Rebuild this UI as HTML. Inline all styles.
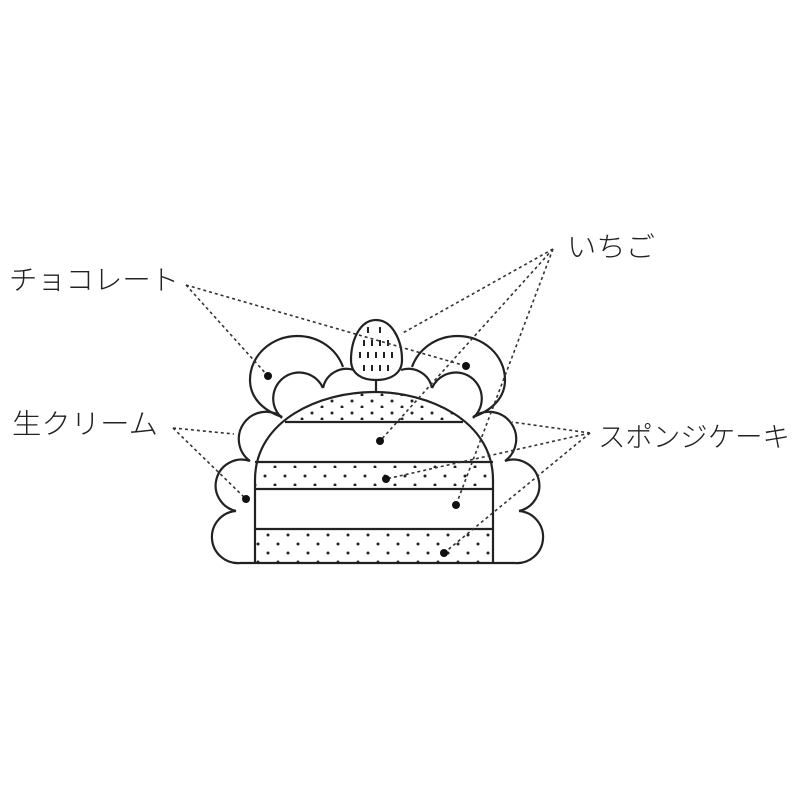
<!DOCTYPE html>
<html><head><meta charset="utf-8"><style>html,body{margin:0;padding:0;background:#fff}svg{display:block}</style></head>
<body>
<svg width="800" height="800" viewBox="0 0 800 800" xmlns="http://www.w3.org/2000/svg">
<defs>
<clipPath id="dome"><path d="M255,563 L255,480 C255,420 320,392 374,392 C428,392 493,420 493,480 L493,563 Z"/></clipPath>
<pattern id="p1" patternUnits="userSpaceOnUse" x="0" y="0" width="20" height="18"><circle cx="5" cy="8" r="1.5" fill="#222"/><circle cx="15" cy="17" r="1.5" fill="#222"/></pattern>
<pattern id="p2" patternUnits="userSpaceOnUse" x="0" y="0" width="20" height="18"><circle cx="8" cy="13" r="1.5" fill="#222"/><circle cx="18" cy="4" r="1.5" fill="#222"/></pattern>
<pattern id="p3" patternUnits="userSpaceOnUse" x="0" y="0" width="20" height="12"><circle cx="12" cy="5" r="1.5" fill="#222"/><circle cx="2" cy="11" r="1.5" fill="#222"/></pattern>
</defs>
<g fill="none" stroke="#222" stroke-width="2.2">
<g id="cl">
<path d="M282,417 C262,410 250,397 250,380 C250,355 272,336 297,336 C320,336 337,350 343,367"/>
<path d="M282,418 A26,26 0 1 1 323,388"/>
<path d="M323,388 A24,24 0 0 1 354,370"/>
<path d="M282,417 A25,25 0 1 0 250,461"/>
<path d="M250,461 A26,26 0 1 0 236,511"/>
<path d="M236,511 A26,26 0 0 0 240,563"/>
</g>
<use href="#cl" transform="translate(755,0) scale(-1,1)"/>
<line x1="240" y1="563" x2="515" y2="563"/>
</g>
<g clip-path="url(#dome)">
<rect x="250" y="390" width="250" height="32" fill="url(#p3)"/>
<rect x="250" y="462" width="250" height="27" fill="url(#p1)"/>
<rect x="250" y="529" width="250" height="34" fill="url(#p2)"/>
</g>
<g fill="none" stroke="#222" stroke-width="2.2">
<path d="M255,563 L255,480 C255,420 320,392 374,392 C428,392 493,420 493,480 L493,563" fill="none"/>
<line x1="285" y1="422" x2="463" y2="422"/>
<line x1="255" y1="462" x2="493" y2="462"/>
<line x1="255" y1="489" x2="493" y2="489"/>
<line x1="255" y1="529" x2="493" y2="529"/>
<line x1="376" y1="380" x2="376" y2="392"/>
<path d="M376,320 C392,320 402,340 402,360 C402,374 390,380 376,380 C362,380 351,374 351,360 C351,340 360,320 376,320 Z" fill="#fff"/>
</g>
<g stroke="#222" stroke-width="2" stroke-linecap="butt">
<path d="M368,327v6M380,327v6M364,340v6M372,340v6M380,340v6M388,340v6M360,352v6M368,352v6M376,352v6M384,352v6M392,352v6M364,365v6M372,365v6M380,365v6M388,365v6"/>
</g>
<g fill="none" stroke="#333" stroke-width="1.6" stroke-dasharray="3,3">
<path d="M186,285 L268,376 M186,285 L466,366"/>
<path d="M173,428 L234,434 M173,428 L246,499"/>
<path d="M553,249 L401,334 M553,249 L380,441 M553,249 L456,505"/>
<path d="M590,433 L512,422 M590,433 L386,479 M590,433 L444,553"/>
</g>
<g fill="#111">
<circle cx="268" cy="376" r="4"/><circle cx="466" cy="366" r="4"/>
<circle cx="246" cy="499" r="4"/><circle cx="380" cy="441" r="4"/>
<circle cx="386" cy="479" r="4"/><circle cx="456" cy="505" r="4"/>
<circle cx="444" cy="553" r="4"/>
</g>
<g font-family="'Liberation Sans','Noto Sans CJK JP',sans-serif" font-size="28" font-weight="300" fill="#222" dominant-baseline="central">
<text x="9" y="280" textLength="170" lengthAdjust="spacingAndGlyphs">チョコレート</text>
<text x="12" y="424" textLength="146" lengthAdjust="spacingAndGlyphs">生クリーム</text>
<text x="567" y="247" textLength="88" lengthAdjust="spacingAndGlyphs">いちご</text>
<text x="598" y="437" textLength="192" lengthAdjust="spacingAndGlyphs">スポンジケーキ</text>
</g>
</svg>
</body></html>
